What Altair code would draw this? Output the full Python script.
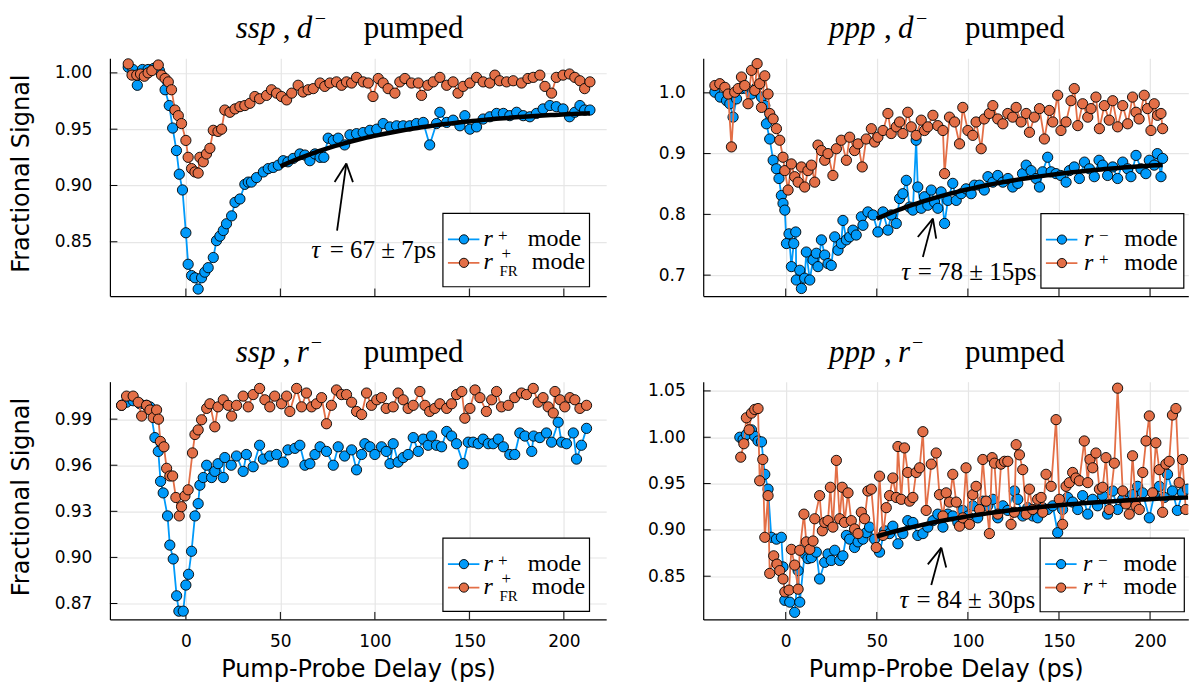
import numpy as np
import pandas as pd
import altair as alt

BLUE = "#009AFA"
ORANGE = "#E36F47"
GRID = "#e6e6e6"
SANS = "DejaVu Sans"
SERIF = "Liberation Serif, Times New Roman, serif"

# ---- measured series: (pump-probe delay [ps], fractional signal) ----
SSP_D_RPLUS = [(-30.5,1.005),(-28,1.003),(-25.7,0.989),(-23,1.003),(-20,1.003),(-17,1.004),(-14,1.002),(-11,0.985),(-8.8,0.971),(-7,0.951),(-5,0.931),(-3.5,0.910),(-1.8,0.896),(0,0.858),(1.2,0.830),(3,0.820),(4.8,0.818),(6.5,0.808),(8.3,0.818),(10,0.823),(11.8,0.827),(14.5,0.836),(16.2,0.851),(18,0.855),(19.8,0.860),(21.5,0.866),(24.2,0.873),(26,0.885),(28.6,0.888),(31.2,0.901),(33,0.903),(34.7,0.903),(37.4,0.907),(41,0.912),(43.6,0.915),(46.2,0.916),(48.9,0.918),(51.5,0.922),(54,0.921),(56.8,0.924),(60.3,0.928),(63,0.927),(65.6,0.922),(68.3,0.928),(71,0.925),(73,0.925),(75.3,0.942),(78,0.940),(80.6,0.942),(84,0.936),(86.8,0.945),(90.3,0.946),(93.8,0.947),(97.4,0.949),(101,0.950),(104.4,0.955),(108,0.952),(111.5,0.953),(115,0.953),(118.5,0.953),(122,0.955),(125.6,0.956),(129,0.936),(132.6,0.955),(134.4,0.965),(138,0.956),(141.4,0.958),(145,0.953),(147.6,0.962),(150.3,0.950),(153.8,0.952),(157.3,0.959),(160.8,0.961),(164.4,0.964),(168,0.964),(171.4,0.962),(175,0.965),(178.5,0.962),(182,0.961),(185.5,0.964),(189,0.968),(192.6,0.971),(196,0.970),(199.6,0.968),(203,0.961),(205.8,0.965),(208.5,0.971),(211,0.967),(213.8,0.967)]
SSP_D_RFR = [(-30.5,1.008),(-28.5,0.998),(-26,0.998),(-24,0.999),(-22,0.997),(-20,1.000),(-18,1.002),(-14.6,1.007),(-12.9,0.998),(-11,0.995),(-9.3,0.992),(-7.6,0.985),(-5.8,0.967),(-4,0.962),(-2.3,0.955),(0,0.940),(1.2,0.925),(3,0.915),(4.8,0.912),(6.5,0.911),(7.4,0.925),(9.2,0.921),(10.9,0.928),(12.7,0.933),(14.5,0.949),(17,0.948),(18.9,0.950),(20.6,0.967),(23.3,0.965),(26,0.968),(28.6,0.970),(31.2,0.971),(33.9,0.973),(36.5,0.979),(39,0.977),(42.7,0.980),(45.3,0.985),(48,0.982),(50.6,0.979),(53.3,0.976),(56,0.982),(59.4,0.989),(62,0.983),(64.7,0.985),(67.4,0.986),(71,0.991),(73.5,0.988),(76.2,0.991),(79.7,0.992),(82.4,0.989),(85,0.992),(87.7,0.991),(90.3,0.996),(93.8,0.992),(96.5,0.991),(99,0.979),(101.8,0.995),(104.4,0.991),(107,0.986),(110.6,0.982),(113.2,0.992),(115.9,0.995),(119.4,0.991),(123,0.991),(124.7,0.980),(128,0.989),(130.9,0.992),(134.4,0.996),(138,0.989),(141.4,0.992),(144,0.982),(146.7,0.988),(150.3,0.991),(153.8,0.996),(157.3,0.992),(160.8,0.991),(163.5,0.998),(166,0.993),(169.7,0.992),(173.2,0.993),(177.6,0.991),(181,0.995),(183.8,0.996),(187.3,0.998),(190,0.988),(193.5,0.982),(196,0.996),(199.6,0.998),(203,0.999),(205.8,0.996),(208.5,0.993),(211,0.986),(213.8,0.992)]

PPP_D_RMINUS = [(-38.9,1.001),(-36,0.993),(-32.5,0.987),(-30.7,0.982),(-28.9,0.960),(-27,0.990),(-24.3,1.007),(-21.6,1.007),(-18.8,0.998),(-16,1.009),(-13.3,0.993),(-11.5,0.979),(-10.6,0.949),(-8.8,0.924),(-6.9,0.889),(-5.1,0.875),(-3.7,0.859),(-2.4,0.831),(-1.5,0.818),(-0.5,0.807),(0.4,0.752),(1.8,0.768),(3.1,0.714),(4.4,0.752),(5.5,0.771),(5.8,0.692),(7.7,0.708),(8.6,0.678),(10.4,0.695),(11.3,0.738),(13.2,0.692),(15,0.725),(16.8,0.736),(17.7,0.714),(19.6,0.758),(21.4,0.733),(23.2,0.719),(25,0.716),(26.9,0.763),(28.7,0.741),(30.5,0.752),(31.4,0.790),(33.3,0.758),(35.1,0.763),(36.9,0.774),(38.7,0.766),(41.5,0.796),(42.4,0.782),(45.1,0.804),(47.9,0.799),(50.6,0.771),(53.4,0.804),(56.1,0.774),(57.9,0.799),(60.7,0.785),(62.5,0.826),(64.3,0.834),(66.2,0.856),(68,0.812),(69.8,0.807),(71.6,0.922),(72.5,0.845),(74.4,0.810),(76.2,0.829),(78,0.815),(79.9,0.840),(81.7,0.820),(83.5,0.810),(85.3,0.837),(87.2,0.785),(89,0.823),(91.7,0.851),(93.6,0.823),(96.3,0.834),(99,0.842),(101.8,0.834),(103.6,0.848),(106.4,0.848),(109,0.840),(111,0.862),(113.7,0.853),(116.4,0.864),(119.2,0.853),(122,0.859),(124.6,0.845),(127.4,0.851),(130,0.867),(132,0.881),(134.7,0.872),(137.4,0.859),(139.3,0.845),(141,0.870),(143.8,0.894),(145.7,0.870),(148.4,0.867),(151,0.864),(153.9,0.853),(155.7,0.872),(158.4,0.878),(161.2,0.859),(164,0.886),(166.7,0.875),(169.4,0.862),(172,0.889),(174,0.881),(176.7,0.864),(179.5,0.878),(182.2,0.859),(185,0.886),(187.7,0.875),(189.5,0.862),(192.3,0.897),(195,0.875),(197.7,0.867),(199.6,0.889),(202.3,0.881),(204,0.900),(206,0.862),(206.9,0.892)]
PPP_D_RPLUS = [(-38.9,1.012),(-36.2,1.015),(-33.4,1.009),(-31.6,0.998),(-29.8,0.911),(-28,1.001),(-26.1,1.007),(-24.3,1.026),(-22.5,1.012),(-20.7,0.982),(-18.8,1.037),(-17,1.004),(-15.7,1.048),(-14.3,1.015),(-13.3,0.976),(-11.5,1.028),(-9.7,0.998),(-8.8,0.966),(-6.9,0.957),(-5.1,0.941),(-3.3,0.922),(-1.5,0.894),(-0.5,0.872),(1.3,0.840),(3.1,0.883),(4.9,0.862),(6.8,0.853),(8.6,0.878),(10.4,0.845),(12.2,0.872),(14.1,0.881),(15.9,0.853),(17.7,0.914),(19.6,0.905),(21.4,0.889),(23.2,0.900),(25.9,0.864),(27.8,0.908),(30.5,0.922),(33.3,0.889),(35.1,0.927),(37.8,0.905),(39.7,0.916),(42,0.878),(44.2,0.924),(47,0.941),(48.8,0.919),(50.6,0.927),(53.4,0.938),(56.1,0.966),(57.9,0.933),(60.7,0.944),(62.5,0.952),(64.3,0.933),(67,0.968),(68.9,0.944),(71.6,0.930),(74.4,0.955),(76.2,0.938),(78,0.944),(80.8,0.963),(83.5,0.946),(86.3,0.938),(87.2,0.867),(89.9,0.960),(92.7,0.952),(95.4,0.916),(97.2,0.976),(100,0.938),(102.7,0.930),(104.5,0.952),(107.3,0.908),(109,0.957),(111.8,0.966),(113.7,0.979),(116.4,0.957),(119.2,0.949),(121.9,0.966),(124.6,0.960),(126.5,0.976),(129.2,0.952),(132,0.966),(133.8,0.935),(136.5,0.960),(139.3,0.974),(142,0.924),(144.7,0.971),(146.6,0.952),(149.3,0.996),(151.1,0.938),(153.9,0.952),(156.6,0.987),(158.4,1.007),(160.3,0.946),(163,0.982),(165.8,0.960),(167.6,0.974),(170.3,0.993),(172.2,0.941),(174.9,0.979),(177.6,0.955),(179.5,0.987),(182.2,0.944),(185,0.979),(187.7,0.949),(190.4,0.993),(192.3,0.968),(194,0.957),(196.8,0.996),(198.6,0.974),(200.5,0.938),(202.3,0.982),(204.1,0.963),(206,0.966),(206.9,0.941)]

SSP_R_RPLUS = [(-34,0.999),(-31.4,1.001),(-27.9,1.002),(-24.3,1.000),(-20.8,0.999),(-19,0.998),(-16.4,0.978),(-14.6,0.969),(-13.4,0.9495),(-12,0.942),(-9.7,0.927),(-8.5,0.908),(-6.7,0.899),(-4.9,0.875),(-3.7,0.865),(-1.4,0.865),(0,0.882),(1.4,0.889),(3,0.904),(4.8,0.927),(6.5,0.935),(7.4,0.947),(9.2,0.952),(11,0.960),(13.6,0.952),(15.3,0.956),(17,0.961),(19.8,0.952),(20.6,0.965),(24,0.960),(26.8,0.966),(30.3,0.956),(32,0.967),(35.6,0.959),(39,0.973),(41,0.964),(44.4,0.966),(48,0.967),(51.5,0.962),(54,0.970),(57.7,0.971),(60.3,0.973),(63,0.960),(65.6,0.961),(68.3,0.967),(71,0.972),(74.4,0.969),(78,0.960),(80.6,0.972),(84,0.966),(87.7,0.970),(90.3,0.957),(93,0.967),(94.7,0.974),(97.4,0.972),(100,0.967),(103.5,0.972),(106,0.969),(108,0.961),(109.7,0.974),(112.3,0.962),(115,0.965),(117.6,0.967),(120.3,0.978),(123,0.969),(125.6,0.977),(128.2,0.973),(130,0.979),(132.6,0.973),(135.3,0.972),(138,0.982),(140.6,0.979),(143.2,0.974),(146.7,0.961),(149.4,0.975),(152,0.975),(154.7,0.974),(157.3,0.977),(160,0.974),(162.6,0.974),(165.3,0.977),(168,0.972),(171.4,0.967),(174,0.967),(176.7,0.981),(179.4,0.979),(183,0.969),(184,0.979),(187.3,0.978),(190.8,0.981),(193.5,0.975),(197,0.988),(198.8,0.975),(201.4,0.974),(205,0.981),(206.7,0.964),(209.3,0.973),(212,0.984)]
SSP_R_RFR = [(-34,0.999),(-31.4,1.005),(-27.9,1.005),(-25.2,1.001),(-23.4,0.992),(-20.8,0.999),(-19,0.996),(-17.3,0.991),(-15.5,0.996),(-14.5,0.990),(-13.5,0.9755),(-11.6,0.972),(-10.2,0.958),(-8.5,0.953),(-7,0.953),(-5.3,0.939),(-3.5,0.927),(-2.3,0.933),(-0.5,0.940),(1.2,0.944),(3.5,0.968),(4.8,0.980),(6.5,0.983),(8.3,0.9896),(11,0.997),(12.7,1.000),(15.3,0.985),(17,0.998),(19.8,1.0026),(22.4,0.999),(24.2,0.992),(26.8,0.999),(30.3,1.005),(33,0.998),(35.6,1.006),(39,1.010),(41.8,1.0026),(44.4,0.998),(47,1.005),(50.6,1.000),(53.3,1.005),(55,0.995),(58.6,1.010),(61.2,0.998),(63.8,1.007),(66.5,0.998),(69.1,1.000),(71.8,1.004),(74.4,0.987),(77,0.999),(79.7,1.009),(82.4,1.006),(85,1.006),(87.7,1.001),(90.3,0.995),(93,0.993),(95.6,1.007),(98.2,0.999),(101,1.0026),(103.5,1.004),(106,0.997),(109.7,0.998),(112.3,1.007),(115,1.0026),(117.6,0.997),(120.3,0.999),(123.8,1.008),(126.5,0.999),(129,0.995),(131.7,0.997),(134.4,1.000),(138,0.997),(140.6,1.000),(143.2,1.006),(146,1.008),(147.6,0.9906),(150.3,0.997),(153,1.009),(155.6,1.004),(159,0.995),(161.8,1.0026),(164.4,1.008),(167,0.998),(170.6,0.999),(174,1.004),(177.6,1.007),(180.2,1.006),(183.8,1.010),(186.4,1.001),(189,1.004),(191.7,0.998),(194.4,0.994),(195.3,1.008),(198,1.0026),(200.5,0.998),(203.2,1.004),(205.8,1.0026),(208.5,0.997),(212,0.999)]

PPP_R_RMINUS = [(-25.2,1.000),(-23.4,0.9975),(-21.6,1.003),(-18.8,1.008),(-17,1.001),(-15.2,0.996),(-13.3,0.995),(-11.5,0.960),(-9.7,0.944),(-7.9,0.892),(-5.1,0.890),(-2.4,0.892),(-1.5,0.860),(-0.5,0.824),(2.2,0.822),(4.9,0.811),(6.8,0.856),(7.7,0.822),(10.4,0.874),(12.2,0.869),(14.1,0.870),(16.8,0.876),(18.6,0.847),(21.4,0.865),(23.2,0.874),(25,0.867),(26.9,0.878),(29.6,0.867),(31.4,0.872),(33.3,0.894),(35.1,0.890),(37.8,0.881),(39.7,0.887),(42.4,0.890),(44.2,0.897),(46,0.903),(48.8,0.890),(51.5,0.876),(54.3,0.899),(57,0.896),(58.8,0.904),(61.6,0.885),(64.3,0.896),(67,0.910),(69.8,0.908),(72.5,0.894),(75.3,0.896),(78,0.903),(80.8,0.910),(83.5,0.917),(86.3,0.903),(89,0.917),(91.7,0.915),(94.5,0.908),(97.2,0.921),(100,0.915),(102.7,0.926),(105.4,0.913),(108.2,0.931),(110.9,0.926),(113.7,0.933),(116.4,0.913),(119.2,0.926),(121.9,0.921),(125.5,0.942),(127.4,0.933),(130.1,0.915),(132.9,0.924),(135.6,0.915),(138.3,0.913),(141.1,0.924),(143.8,0.922),(146.6,0.926),(149.3,0.897),(152,0.922),(154.8,0.935),(157.5,0.930),(160.3,0.922),(163,0.937),(165.8,0.917),(168.5,0.933),(171.2,0.926),(174,0.937),(176.7,0.917),(179.5,0.942),(182.2,0.922),(185,0.933),(187.7,0.931),(190.4,0.938),(193.2,0.947),(195.9,0.940),(199.6,0.913),(202.3,0.938),(205.1,0.947),(207.8,0.935),(209.6,0.960),(212.3,0.942),(215,0.921),(217.8,0.940),(220.6,0.944)]
PPP_R_RPLUS = [(-24.7,0.9785),(-23,0.993),(-21.6,1.021),(-20.1,1.008),(-18.8,1.026),(-17,1.030),(-15.2,1.031),(-14.3,0.953),(-12.6,0.976),(-11.5,0.892),(-9.7,0.937),(-8.8,0.853),(-6.6,0.872),(-4.8,0.863),(-3.3,0.856),(-1.5,0.847),(-0.5,0.833),(1.8,0.835),(3.1,0.879),(4.9,0.862),(6.8,0.836),(7.7,0.878),(10,0.917),(11.3,0.887),(13.2,0.879),(15,0.888),(15.9,0.912),(18.6,0.937),(20.1,0.899),(21.4,0.908),(23.2,0.910),(24.5,0.946),(25.9,0.903),(27.8,0.975),(29.6,0.912),(31,0.946),(32.3,0.908),(34.2,0.940),(36,0.910),(37.8,0.901),(39.7,0.896),(41.5,0.919),(43.3,0.912),(45.1,0.942),(47,0.944),(49.7,0.881),(51.5,0.958),(53.4,0.894),(55.2,0.924),(57,0.937),(58.8,0.956),(60.7,0.935),(61.6,0.990),(63.4,0.933),(65.2,0.9885),(67,0.962),(68,0.931),(69.8,0.935),(71.6,0.962),(73.5,0.967),(75.3,1.006),(77.1,0.921),(79.9,0.971),(82.6,0.983),(84.4,0.938),(86.3,0.915),(88.1,0.940),(89.9,0.930),(91.7,0.960),(93.6,0.930),(95.4,0.904),(97.2,0.913),(99,0.967),(100.9,0.906),(102.7,0.938),(104.5,0.947),(106.4,0.922),(108.2,0.976),(110,0.931),(111.8,0.896),(113.3,0.978),(114.6,0.972),(116.4,0.917),(118.2,0.971),(120.1,0.974),(121.9,0.974),(123.7,0.906),(125.5,0.919),(126.5,0.992),(128.3,0.981),(130.1,0.965),(132,0.917),(133.8,0.944),(135.6,0.922),(138.3,0.933),(140.2,0.935),(141.1,0.919),(142.9,0.960),(145.7,0.947),(148.4,1.019),(150.2,0.933),(152,0.906),(153.9,0.947),(155.7,0.951),(157.5,0.962),(159.3,0.956),(161.2,0.953),(163.9,0.996),(165.8,0.951),(167,0.976),(168.5,0.967),(170.3,0.983),(172.2,0.944),(174,0.946),(175.8,0.978),(177.6,0.922),(180.4,0.972),(182.2,1.053),(185,0.942),(186.8,0.928),(188.6,0.917),(190.4,0.980),(192.3,0.926),(194.1,0.922),(196,0.962),(197.8,0.996),(199.6,1.023),(201.4,0.940),(203.2,0.994),(205.1,0.965),(206.9,0.919),(208.7,0.971),(210.5,0.974),(212.3,1.024),(214.2,1.031),(216,0.951),(217.8,0.976),(219.6,0.922)]

X_TICKS = [0, 50, 100, 150, 200]
Y_TICKS_SSP_D = [0.85, 0.90, 0.95, 1.00]
Y_TICKS_PPP_D = [0.7, 0.8, 0.9, 1.0]
Y_TICKS_SSP_R = [0.87, 0.90, 0.93, 0.96, 0.99]
Y_TICKS_PPP_R = [0.85, 0.90, 0.95, 1.00, 1.05]

# single-exponential recovery fits, signal = amp - drop * exp(-t / tau)
FIT_SSP_D = dict(tau=67, err=7, amp=0.9686, drop=0.109, start=50, end=213.8)
FIT_PPP_D = dict(tau=78, err=15, amp=0.895, drop=0.1938, start=50, end=206.9)
FIT_PPP_R = dict(tau=84, err=30, amp=0.9413, drop=0.0876, start=50, end=221)

HEIGHT = 238
ONE = pd.DataFrame({"k": [0]})


def frame(pairs):
    return pd.DataFrame(pairs, columns=["t", "v"])


def text_piece(x, y, s, size, italic=False):
    return alt.Chart(ONE).mark_text(
        text=s, font=SERIF, fontSize=size, fontStyle="italic" if italic else "normal",
        align="left", baseline="alphabetic", color="black",
    ).encode(x=alt.value(x), y=alt.value(y))


def legend_layers(box, rows):
    bx, by, bw, bh = box
    out = [alt.Chart(ONE).mark_rect(fill="white", stroke="black", strokeWidth=1.2).encode(
        x=alt.value(bx), x2=alt.value(bx + bw), y=alt.value(by), y2=alt.value(by + bh))]
    for i, (color, pieces) in enumerate(rows):
        cy = by + (26 if i == 0 else 49.5)
        out.append(alt.Chart(ONE).mark_rule(color=color, strokeWidth=1.8).encode(
            x=alt.value(bx + 5), x2=alt.value(bx + 36.5), y=alt.value(cy)))
        out.append(alt.Chart(ONE).mark_point(
            shape="circle", filled=True, fill=color, stroke="black", strokeWidth=0.9,
            size=85, opacity=1).encode(x=alt.value(bx + 21), y=alt.value(cy)))
        for s, dx, dy, size, italic in pieces:
            out.append(text_piece(bx + dx, cy + dy, s, size, italic))
    return out


def panel(cfg):
    w = cfg["width"]
    xs = alt.Scale(domain=cfg["xdom"], nice=False, zero=False)
    ys = alt.Scale(domain=cfg["ydom"], nice=False, zero=False)
    x_kw = dict(values=X_TICKS, grid=True, gridColor=GRID, gridWidth=1.2, ticks=False,
                domainColor="black", domainWidth=1.2, labels=cfg["xlab"], labelFont=SANS,
                labelFontSize=17, labelColor="black", labelPadding=14, format="d",
                labelFlush=False)
    if cfg["xlab"]:
        x_kw.update(title="Pump-Probe Delay (ps)", titleFont=SANS, titleFontSize=24,
                    titleFontWeight="normal", titleColor="black", titleY=57,
                    titleBaseline="alphabetic")
    else:
        x_kw.update(title=None)
    y_kw = dict(values=cfg["yticks"], format=cfg["yfmt"], grid=True, gridColor=GRID,
                gridWidth=1.2, ticks=False, domainColor="black", domainWidth=1.2,
                labelFont=SANS, labelFontSize=17, labelColor="black", labelPadding=18,
                labelFlush=False)
    if cfg["ylab"]:
        y_kw.update(title="Fractional Signal", titleFont=SANS, titleFontSize=24,
                    titleFontWeight="normal", titleColor="black", titleX=-81,
                    titleY=HEIGHT / 2 - 4, titleAngle=270, titleBaseline="alphabetic")
    else:
        y_kw.update(title=None)
    X = alt.X("t:Q", scale=xs, axis=alt.Axis(**x_kw))
    Y = alt.Y("v:Q", scale=ys, axis=alt.Axis(**y_kw))

    layers = []
    if cfg.get("anchor"):
        layers.append(alt.Chart(ONE).mark_rect(opacity=0).encode(
            x=alt.value(-110), x2=alt.value(0), y=alt.value(-58), y2=alt.value(0)))

    # inward tick marks
    layers.append(alt.Chart(pd.DataFrame({"v": cfg["yticks"]})).mark_rule(
        color="black", strokeWidth=1).encode(y=Y, x=alt.value(0), x2=alt.value(7.5)))
    layers.append(alt.Chart(pd.DataFrame({"t": X_TICKS})).mark_rule(
        color="black", strokeWidth=1).encode(x=X, y=alt.value(HEIGHT), y2=alt.value(HEIGHT - 7.5)))

    clip = cfg.get("clip", False)
    for pairs, color in cfg["series"]:
        df = frame(pairs)
        layers.append(alt.Chart(df).mark_line(color=color, strokeWidth=1.8, clip=clip).encode(x=X, y=Y))
        layers.append(alt.Chart(df).mark_point(
            shape="circle", filled=True, fill=color, stroke="black", strokeWidth=0.9,
            size=105, opacity=1, clip=clip).encode(x=X, y=Y))

    fit = cfg.get("fit")
    if fit:
        t = np.linspace(fit["start"], fit["end"], 80)
        fdf = pd.DataFrame({"t": t, "v": fit["amp"] - fit["drop"] * np.exp(-t / fit["tau"])})
        layers.append(alt.Chart(fdf).mark_line(color="black", strokeWidth=4.5, clip=clip).encode(x=X, y=Y))

        (tx, ty), (hx, hy), (lx, ly), (rx, ry) = cfg["arrow"]
        seg = pd.DataFrame({"t": [tx, lx, rx], "v": [ty, ly, ry],
                            "t2": [hx, hx, hx], "v2": [hy, hy, hy]})
        layers.append(alt.Chart(seg).mark_rule(color="black", strokeWidth=1.8).encode(
            x=X, y=Y, x2="t2:Q", y2="v2:Q"))

        (t_tau, t_eq, v_lab) = cfg["tau_pos"]
        layers.append(alt.Chart(pd.DataFrame({"t": [t_tau], "v": [v_lab]})).mark_text(
            text="\u03c4", font=SERIF, fontSize=25, fontStyle="italic", align="left",
            baseline="alphabetic", color="black").encode(x=X, y=Y))
        layers.append(alt.Chart(pd.DataFrame({"t": [t_eq], "v": [v_lab]})).mark_text(
            text=f"= {fit['tau']} \u00b1 {fit['err']}ps", font=SERIF, fontSize=25,
            align="left", baseline="alphabetic", color="black").encode(x=X, y=Y))

    layers += legend_layers(cfg["legend_box"], cfg["legend_rows"])
    for s, x, y, size, italic in cfg["title"]:
        layers.append(text_piece(x, y, s, size, italic))

    return alt.layer(*layers).properties(width=w, height=HEIGHT)


def title_parts(word, letter, comma_x, letter_x, sup_x, pumped_x):
    return [(word, 126, -20, 31, True), (",", comma_x, -20, 31, False),
            (letter, letter_x, -20, 31, True), ("\u2212", sup_x, -33, 20, False),
            ("pumped", pumped_x, -20, 31, False)]


ROWS_FR = [
    (BLUE, [("r", 40.5, 6.5, 24, True), ("+", 55, 1.8, 17, False), ("mode", 85, 6.5, 24, False)]),
    (ORANGE, [("r", 40.5, 6.5, 24, True), ("FR", 56.5, 13.5, 15, False),
              ("+", 58.5, -3.5, 17, False), ("mode", 89, 6.5, 24, False)]),
]
ROWS_PM = [
    (BLUE, [("r", 43, 6.5, 24, True), ("\u2212", 58, 1.8, 17, False), ("mode", 83.5, 6.5, 24, False)]),
    (ORANGE, [("r", 43, 6.5, 24, True), ("+", 58, 1.8, 17, False), ("mode", 83.5, 6.5, 24, False)]),
]

LEFT_W = 496.7
RIGHT_W = 485.5
LEFT_X = [-40.2, 222.4]
RIGHT_X = [-45.3, 221.0]

top_left = panel(dict(
    width=LEFT_W, xdom=LEFT_X, ydom=[0.8018, 1.013], yticks=Y_TICKS_SSP_D, yfmt=".2f",
    xlab=False, ylab=True, anchor=True,
    series=[(SSP_D_RPLUS, BLUE), (SSP_D_RFR, ORANGE)],
    fit=FIT_SSP_D,
    arrow=[(80.0, 0.860), (84.9, 0.9195), (78.7, 0.903), (88.4, 0.903)],
    tau_pos=(66.4, 76.1, 0.8352),
    legend_box=(333.3, 155.3, 146.7, 73.4), legend_rows=ROWS_FR,
    title=title_parts("ssp", "d", 173, 187, 205, 254),
))
top_right = panel(dict(
    width=RIGHT_W, xdom=RIGHT_X, ydom=[0.6656, 1.0569], yticks=Y_TICKS_PPP_D, yfmt=".1f",
    xlab=False, ylab=False,
    series=[(PPP_D_RMINUS, BLUE), (PPP_D_RPLUS, ORANGE)],
    fit=FIT_PPP_D,
    arrow=[(75.3, 0.730), (80.8, 0.793), (72.5, 0.7628), (82.6, 0.760)],
    tau_pos=(63.4, 72.5, 0.6918),
    legend_box=(338.0, 155.5, 143.0, 74.5), legend_rows=ROWS_PM,
    title=title_parts("ppp", "d", 181, 195, 213, 262),
))
bottom_left = panel(dict(
    width=LEFT_W, xdom=LEFT_X, ydom=[0.8596, 1.0144], yticks=Y_TICKS_SSP_R, yfmt=".2f",
    xlab=True, ylab=True,
    series=[(SSP_R_RPLUS, BLUE), (SSP_R_RFR, ORANGE)],
    legend_box=(333.3, 156.6, 146.7, 73.4), legend_rows=ROWS_FR,
    title=title_parts("ssp", "r", 173, 187, 201, 254),
))
bottom_right = panel(dict(
    width=RIGHT_W, xdom=RIGHT_X, ydom=[0.8033, 1.060], yticks=Y_TICKS_PPP_R, yfmt=".2f",
    xlab=True, ylab=False, clip=True,
    series=[(PPP_R_RMINUS, BLUE), (PPP_R_RPLUS, ORANGE)],
    fit=FIT_PPP_R,
    arrow=[(79.9, 0.8405), (85.4, 0.8808), (78.0, 0.8628), (88.1, 0.8593)],
    tau_pos=(62.5, 71.8, 0.8154),
    legend_box=(337.2, 156.6, 144.3, 73.7), legend_rows=ROWS_PM,
    title=title_parts("ppp", "r", 181, 195, 209, 262),
))

chart = alt.concat(
    top_left, top_right, bottom_left, bottom_right,
    columns=2, spacing={"row": 85.7, "column": 96.8}, bounds="flush", align="each",
).properties(padding=0, background="white").configure_view(strokeWidth=0)

chart.save("out.html", embed_options={"renderer": "svg", "actions": False})
